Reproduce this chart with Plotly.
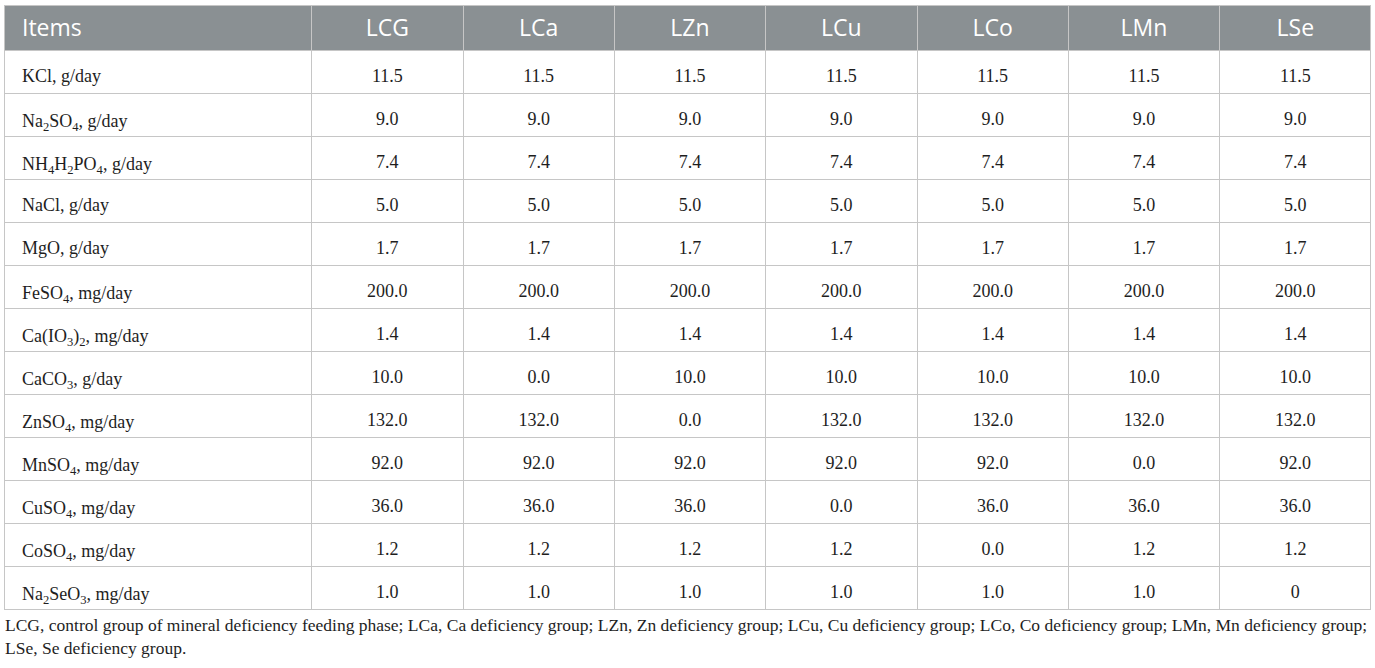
import plotly.graph_objects as go

# Table content
items = [
    "KCl, g/day",
    "Na<sub>2</sub>SO<sub>4</sub>, g/day",
    "NH<sub>4</sub>H<sub>2</sub>PO<sub>4</sub>, g/day",
    "NaCl, g/day",
    "MgO, g/day",
    "FeSO<sub>4</sub>, mg/day",
    "Ca(IO<sub>3</sub>)<sub>2</sub>, mg/day",
    "CaCO<sub>3</sub>, g/day",
    "ZnSO<sub>4</sub>, mg/day",
    "MnSO<sub>4</sub>, mg/day",
    "CuSO<sub>4</sub>, mg/day",
    "CoSO<sub>4</sub>, mg/day",
    "Na<sub>2</sub>SeO<sub>3</sub>, mg/day",
]
groups = ["LCG", "LCa", "LZn", "LCu", "LCo", "LMn", "LSe"]

LCG = ["11.5", "9.0", "7.4", "5.0", "1.7", "200.0", "1.4", "10.0", "132.0", "92.0", "36.0", "1.2", "1.0"]
LCa = ["11.5", "9.0", "7.4", "5.0", "1.7", "200.0", "1.4", "0.0", "132.0", "92.0", "36.0", "1.2", "1.0"]
LZn = ["11.5", "9.0", "7.4", "5.0", "1.7", "200.0", "1.4", "10.0", "0.0", "92.0", "36.0", "1.2", "1.0"]
LCu = ["11.5", "9.0", "7.4", "5.0", "1.7", "200.0", "1.4", "10.0", "132.0", "92.0", "0.0", "1.2", "1.0"]
LCo = ["11.5", "9.0", "7.4", "5.0", "1.7", "200.0", "1.4", "10.0", "132.0", "92.0", "36.0", "0.0", "1.0"]
LMn = ["11.5", "9.0", "7.4", "5.0", "1.7", "200.0", "1.4", "10.0", "132.0", "0.0", "36.0", "1.2", "1.0"]
LSe = ["11.5", "9.0", "7.4", "5.0", "1.7", "200.0", "1.4", "10.0", "132.0", "92.0", "36.0", "1.2", "0"]

footnote = ("LCG, control group of mineral deficiency feeding phase; LCa, Ca deficiency group; "
            "LZn, Zn deficiency group; LCu, Cu deficiency group; LCo, Co deficiency group; "
            "LMn, Mn deficiency group;<br>LSe, Se deficiency group.")

W, H = 1375, 668
grid = "#c6c6c6"
columns = [items, LCG, LCa, LZn, LCu, LCo, LMn, LSe]
aligns = ["left"] + ["center"] * 7
blank = [[""] * len(items) for _ in columns]

# grid and fills (plotly puts text at the top of a cell, so the text goes in
# a second, borderless table nudged down to sit mid-row like the original)
grid_table = go.Table(
    domain=dict(x=[4 / W, 1371 / W], y=[0, 1 - 5 / H]),
    columnwidth=[307] + [151] * 7,
    header=dict(values=[""] * 8, fill_color="#8a9093",
                line=dict(color=grid, width=1), height=45),
    cells=dict(values=blank, fill_color="white",
               line=dict(color=grid, width=1), height=43),
    hoverinfo="skip",
)

text_table = go.Table(
    domain=dict(x=[14 / W, 1371 / W], y=[0, 1 - 11 / H]),
    columnwidth=[297] + [151] * 7,
    header=dict(
        values=["Items"] + groups,
        fill_color="rgba(0,0,0,0)",
        line=dict(width=0),
        font=dict(family="Open Sans", size=23, color="white"),
        align=aligns,
        height=49,
    ),
    cells=dict(
        values=columns,
        fill_color="rgba(0,0,0,0)",
        line=dict(width=0),
        font=dict(family="Liberation Serif", size=18, color="#1e1e1e"),
        align=aligns,
        height=43,
    ),
)

fig = go.Figure(data=[grid_table, text_table])
fig.add_annotation(
    text=footnote, xref="paper", yref="paper", x=3 / W, y=1 - 613 / H,
    xanchor="left", yanchor="top", align="left", showarrow=False,
    font=dict(family="Liberation Serif", size=17.5, color="#1e1e1e"),
)
fig.update_layout(width=W, height=H, margin=dict(l=0, r=0, t=0, b=0),
                  paper_bgcolor="white", plot_bgcolor="white")
# drop the browser's default 8px body margin so the figure sits at 0,0
fig.write_html("out.html", config={"displayModeBar": False},
               post_script="document.body.style.margin='0';")
